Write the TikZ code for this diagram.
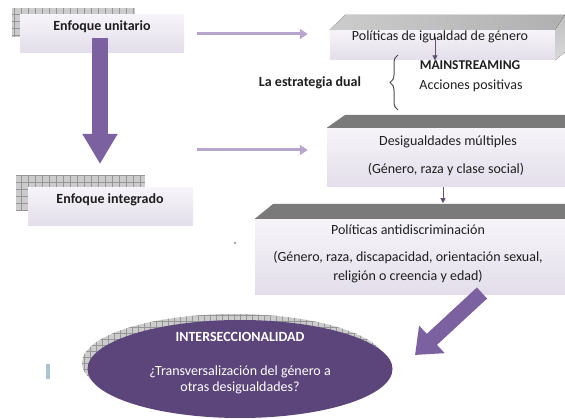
\documentclass[tikz,border=0pt]{standalone}
\usepackage{fontspec}
\setmainfont{Carlito}
\usetikzlibrary{arrows.meta,shapes.geometric,decorations.pathreplacing}
\definecolor{lavtop}{RGB}{246,244,249}
\definecolor{lavbot}{RGB}{227,222,234}
\definecolor{bigpurple}{RGB}{124,97,160}
\definecolor{lightpurple}{RGB}{182,166,206}
\definecolor{darkpurple}{RGB}{92,69,122}
\definecolor{tinyarrow}{RGB}{96,82,112}
\definecolor{gridfill}{RGB}{204,204,204}
\definecolor{gridline}{RGB}{150,150,150}
\definecolor{topgray}{RGB}{122,122,122}
\definecolor{txt}{RGB}{30,30,30}
\definecolor{cursorblue}{RGB}{170,196,212}
\begin{document}
\begin{tikzpicture}[x=1pt, y=-1pt,
  box/.style = {rectangle, top color=lavtop, bottom color=lavbot, inner sep=0pt},
  boxtext/.style = {font=\fontsize{14}{16}\selectfont, text=txt, inner sep=0pt, align=center},
  boldtext/.style = {boxtext, font=\fontsize{14}{16}\selectfont\bfseries},
  thinarrow/.style = {draw=lightpurple, line width=3pt, -{Triangle[width=10pt,length=8pt]}},
  downarrow/.style = {draw=bigpurple, line width=16pt, -{Triangle[width=33pt,length=30pt]}},
  diagarrow/.style = {draw=bigpurple, line width=15pt, -{Triangle[width=36pt,length=23pt]}},
  smallarrow/.style = {draw=tinyarrow, line width=0.8pt, -{Triangle[width=5pt,length=5pt]}}
]
\useasboundingbox (0,0) rectangle (565,419);

\foreach \ax/\ay/\bx/\by in {12/8/135/37, 16/175/145/210}{
   \fill[gridfill] (\ax,\by) rectangle (\bx,\ay);
   \draw[gridline, thin, step=7pt] (\ax,\by) grid (\bx,\ay);
   }

\node[box, minimum width=164pt, minimum height=38pt] (unit) at (102,34) {};
\node[boldtext] (unit-t) at (102,27) {Enfoque unitario};
\node[box, minimum width=165pt, minimum height=38pt] (integ) at (110.5,207) {};
\node[boldtext] (integ-t) at (110,200) {Enfoque integrado};

\node[box, minimum width=225pt, minimum height=30pt] (pig) at (442.5,45) {};
\fill[left color=gray!40, right color=gray!62] (pig.north west) -- (345,15) -- (565,15) -- (pig.north east) -- cycle;
\fill[top color=gray!50, bottom color=gray!30] (pig.north east) -- (565,15) -- (565,52) -- (pig.south east) -- cycle;
\node[boxtext] (pig-t) at (440,37) {Políticas de igualdad de género};

\node[box, minimum width=238pt, minimum height=59pt] (desig) at (446,157.5) {};
\fill[topgray] (desig.north west) -- (345,115) -- (565,115) -- (desig.north east) -- cycle;
\node[boxtext] (desig-t1) at (448,142) {Desigualdades múltiples};
\node[boxtext] (desig-t2) at (446,170) {(Género, raza y clase social)};

\node[box, minimum width=310pt, minimum height=76pt] (anti) at (410,257) {};
\fill[topgray] (anti.north west) -- (273,204) -- (565,204) -- (anti.north east) -- cycle;
\node[boxtext] (anti-t1) at (408,230) {Políticas antidiscriminación};
\node[boxtext, font=\fontsize{14}{19}\selectfont] (anti-t2) at (408,267.5) {(Género, raza, discapacidad, orientación sexual,\\religión o creencia y edad)};

\node[boldtext, font=\fontsize{13.5}{16}\selectfont\bfseries] (mainst) at (470,65) {MAINSTREAMING};
\node[boxtext] (accion) at (471,86) {Acciones positivas};
\node[boldtext] (dual) at (310,83) {La estrategia dual};
\coordinate (brace-b) at (398,110);
\coordinate (brace-t) at (398,55);
\draw[decorate, decoration={brace, amplitude=8pt}, draw=black!70, line width=1pt] (brace-b) -- (brace-t);

\draw[smallarrow] ([xshift=-5pt]pig-t.center) -- ([xshift=-5pt]pig-t.center |- mainst.north);
\draw[smallarrow] ([xshift=-3pt]desig.south) -- ++(0,16);

\draw[thinarrow, shorten <=13pt, shorten >=22pt] (unit.east) -- (unit.east -| pig.west);
\coordinate (mid) at (184,150);
\draw[thinarrow, shorten <=13pt, shorten >=19pt] (mid) -- (mid -| desig.west);

\coordinate (downtip) at (100,164);
\draw[downarrow] ([xshift=-2pt,yshift=-4pt]unit.center) -- (downtip);

\node[ellipse, minimum width=304pt, minimum height=98pt, fill=gridfill,
   path picture={\draw[gridline, thin, step=6pt] (path picture bounding box.south west) grid (path picture bounding box.north east);}] (inter-s) at (234,363) {};
\node[ellipse, minimum width=305pt, minimum height=98pt, fill=darkpurple] (inter) at (240,369) {};
\node[boldtext, text=white] (inter-t1) at (240,337) {INTERSECCIONALIDAD};
\node[boxtext, text=white, font=\fontsize{14}{16}\selectfont] (inter-t2) at (240,380) {¿Transversalización del género a\\otras desigualdades?};

\coordinate (diagtail) at (482,293);
\coordinate (diagtip) at (415,355);
\draw[diagarrow] (diagtail) -- (diagtip);

\fill[cursorblue] (46,364) rectangle (50,379);
\fill[black!70] (235,243) circle (0.8);
\end{tikzpicture}
\end{document}
